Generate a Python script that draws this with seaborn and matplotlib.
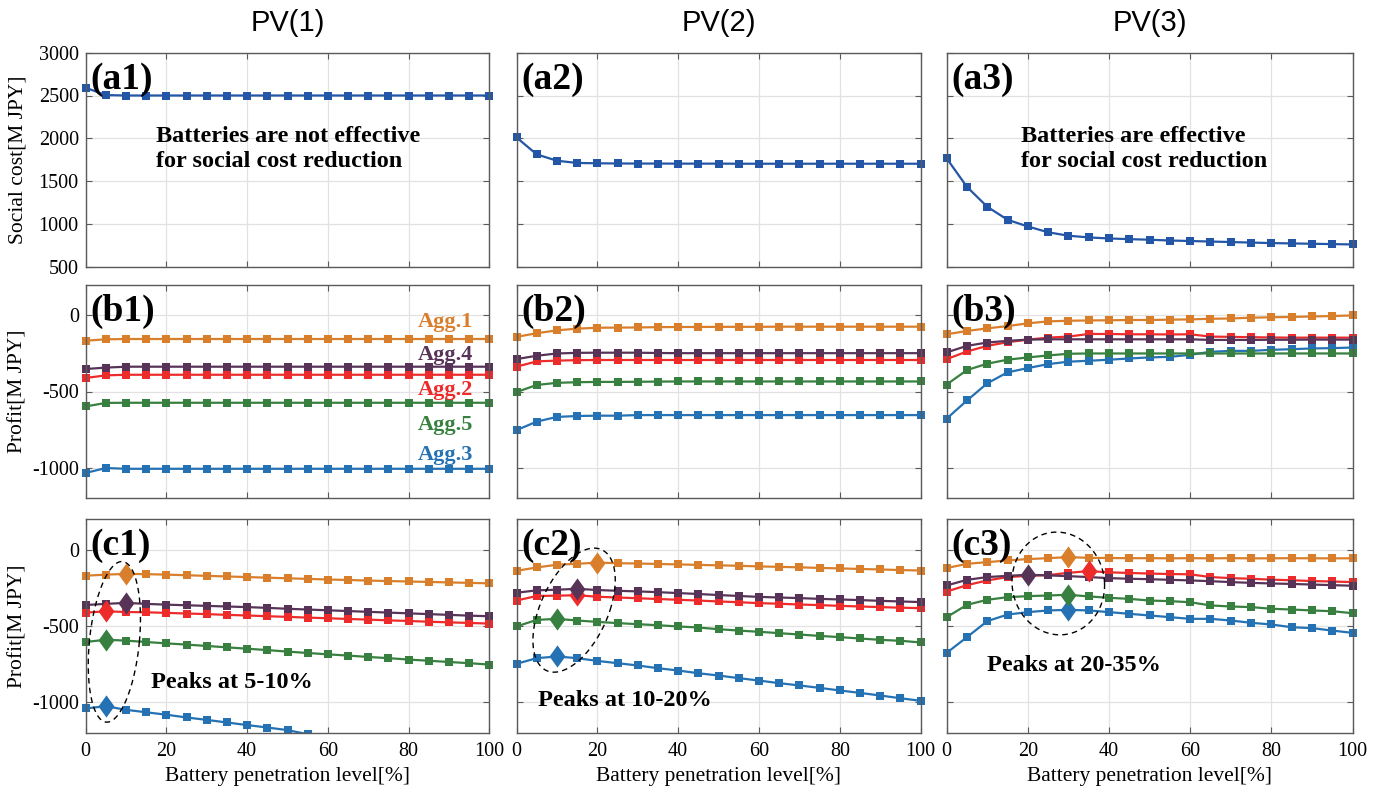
import numpy as np
import matplotlib
matplotlib.use("Agg")
import matplotlib.pyplot as plt
from matplotlib.path import Path
from matplotlib.patches import Rectangle
import seaborn as sns

# ---------------- data ----------------
battery_level = [0, 5, 10, 15, 20, 25, 30, 35, 40, 45, 50, 55, 60, 65, 70, 75, 80, 85, 90, 95, 100]
x_ticks = [0, 20, 40, 60, 80, 100]
cost_ticks = [500, 1000, 1500, 2000, 2500, 3000]
profit_ticks = [-1000, -500, 0]

column_titles = ["PV(1)", "PV(2)", "PV(3)"]
agg_names = ["Agg.1", "Agg.2", "Agg.3", "Agg.4", "Agg.5"]

social_cost_pv1 = [2590, 2505, 2500, 2500, 2500, 2500, 2500, 2500, 2500, 2500, 2500,
                   2500, 2500, 2500, 2500, 2500, 2500, 2500, 2500, 2500, 2500]
social_cost_pv2 = [2010, 1812, 1738, 1712, 1708, 1706, 1705, 1705, 1704, 1704, 1704,
                   1703, 1703, 1703, 1703, 1703, 1703, 1703, 1703, 1703, 1703]
social_cost_pv3 = [1765, 1432, 1200, 1048, 970, 902, 862, 842, 830, 822, 815,
                   806, 800, 794, 788, 782, 776, 772, 768, 764, 760]

# Profit without peak analysis (row b)
b1_agg1 = [-166, -157, -155, -155, -155, -155, -155, -155, -155, -155, -155,
           -155, -155, -155, -155, -155, -155, -155, -155, -155, -155]
b1_agg2 = [-411, -394, -390, -390, -390, -390, -390, -390, -390, -390, -390,
           -390, -390, -390, -390, -390, -390, -390, -390, -390, -390]
b1_agg3 = [-1035, -1003, -1008, -1008, -1008, -1008, -1008, -1008, -1008, -1008, -1008,
           -1008, -1008, -1008, -1008, -1008, -1008, -1008, -1008, -1008, -1008]
b1_agg4 = [-352, -343, -337, -337, -337, -337, -337, -337, -337, -337, -337,
           -337, -337, -337, -337, -337, -337, -337, -337, -337, -337]
b1_agg5 = [-598, -575, -574, -574, -574, -574, -574, -574, -574, -574, -574,
           -574, -574, -574, -574, -574, -574, -574, -574, -574, -574]

b2_agg1 = [-141, -117, -98, -87, -81, -80, -79, -77, -76, -76, -75,
           -75, -75, -74, -74, -74, -74, -74, -74, -74, -74]
b2_agg2 = [-337, -302, -297, -294, -293, -293, -293, -293, -293, -293, -293,
           -293, -293, -293, -293, -293, -293, -293, -293, -293, -293]
b2_agg3 = [-754, -698, -667, -661, -659, -659, -655, -655, -655, -655, -655,
           -655, -655, -655, -655, -655, -655, -655, -655, -655, -655]
b2_agg4 = [-287, -265, -250, -246, -245, -245, -245, -247, -248, -248, -248,
           -248, -248, -248, -248, -248, -248, -248, -248, -248, -248]
b2_agg5 = [-504, -457, -443, -439, -437, -437, -436, -435, -434, -434, -434,
           -434, -434, -434, -434, -434, -434, -434, -434, -434, -434]

b3_agg1 = [-124, -102, -85, -70, -52, -39, -35, -33, -32, -30, -30,
           -28, -26, -22, -20, -15, -12, -10, -7, -4, 0]
b3_agg2 = [-287, -237, -200, -176, -159, -146, -139, -122, -122, -124, -124,
           -125, -124, -139, -141, -143, -145, -146, -146, -146, -146]
b3_agg3 = [-678, -559, -446, -374, -346, -320, -304, -298, -291, -283, -276,
           -272, -259, -239, -233, -233, -226, -222, -217, -215, -211]
b3_agg4 = [-243, -200, -178, -167, -159, -157, -157, -157, -157, -157, -157,
           -157, -157, -161, -161, -161, -160, -160, -159, -159, -159]
b3_agg5 = [-454, -359, -317, -291, -276, -263, -252, -250, -250, -250, -250,
           -250, -250, -250, -250, -250, -250, -250, -250, -250, -250]

# Profit with peaks (row c)
c1_agg1 = [-170, -163, -158, -160, -163, -167, -171, -175, -179, -183, -187,
           -191, -195, -198, -202, -205, -208, -211, -214, -217, -220]
c1_agg2 = [-412, -404, -408, -410, -414, -418, -422, -427, -431, -436, -440,
           -445, -449, -454, -458, -463, -467, -472, -476, -480, -484]
c1_agg3 = [-1041, -1026, -1050, -1066, -1082, -1100, -1116, -1133, -1150, -1166, -1183,
           -1210, -1225, -1240, -1255, -1271, -1288, -1304, -1320, -1337, -1353]
c1_agg4 = [-362, -355, -348, -355, -360, -364, -368, -372, -376, -381, -387,
           -392, -397, -402, -407, -412, -417, -422, -427, -432, -436]
c1_agg5 = [-605, -590, -596, -605, -614, -622, -631, -640, -649, -658, -668,
           -677, -686, -694, -703, -711, -720, -728, -736, -744, -753]

c2_agg1 = [-138, -116, -98, -92, -84, -88, -90, -93, -96, -99, -102,
           -105, -109, -112, -115, -119, -122, -126, -129, -133, -136]
c2_agg2 = [-333, -303, -301, -298, -308, -313, -318, -323, -328, -333, -339,
           -344, -350, -354, -359, -363, -368, -372, -376, -380, -383]
c2_agg3 = [-748, -711, -700, -711, -729, -744, -759, -777, -792, -810, -825,
           -842, -858, -875, -890, -906, -923, -939, -956, -974, -991]
c2_agg4 = [-282, -266, -262, -256, -264, -269, -273, -278, -284, -290, -297,
           -303, -309, -313, -317, -322, -326, -330, -335, -339, -343]
c2_agg5 = [-503, -460, -453, -464, -473, -481, -488, -495, -503, -510, -521,
           -530, -538, -547, -556, -565, -573, -582, -591, -597, -608]

c3_agg1 = [-120, -92, -81, -70, -61, -55, -48, -53, -54, -55, -55,
           -56, -55, -56, -55, -56, -56, -55, -56, -56, -56]
c3_agg2 = [-274, -232, -201, -179, -171, -166, -151, -140, -148, -152, -156,
           -159, -161, -179, -186, -190, -196, -200, -205, -208, -212]
c3_agg3 = [-676, -573, -468, -425, -409, -398, -394, -398, -409, -420, -431,
           -442, -453, -453, -464, -479, -490, -508, -514, -530, -545]
c3_agg4 = [-234, -197, -179, -171, -164, -168, -173, -179, -186, -190, -193,
           -197, -201, -206, -212, -217, -221, -224, -228, -232, -236]
c3_agg5 = [-442, -361, -328, -311, -304, -300, -295, -306, -315, -322, -333,
           -337, -344, -365, -372, -376, -387, -392, -398, -403, -416]

# ---------------- style ----------------
agg_colors = ["#D97F2C", "#EE2B2B", "#2471B3", "#573457", "#37803F"]
cost_color = "#2356A6"

sns.set_theme(style="white")
plt.rcParams["font.family"] = ["Liberation Serif", "DejaVu Serif"]
plt.rcParams["axes.unicode_minus"] = False
plt.rcParams["text.color"] = "black"
plt.rcParams["axes.labelcolor"] = "black"
plt.rcParams["xtick.color"] = "black"
plt.rcParams["ytick.color"] = "black"

W, H = 1381, 791
fig = plt.figure(figsize=(W / 100, H / 100), dpi=100)

lefts = [85.7, 516.5, 946.7]
rights = [489.3, 920.7, 1352.5]
tops = [52.7, 285.0, 519.3]
bottoms = [266.7, 498.0, 732.7]

axes = [[None] * 3 for _ in range(3)]
for r in range(3):
    for c in range(3):
        axes[r][c] = fig.add_axes([lefts[c] / W, 1 - bottoms[r] / H,
                                  (rights[c] - lefts[c]) / W, (bottoms[r] - tops[r]) / H])

diamond = Path([(0, 1), (0.72, 0), (0, -1), (-0.72, 0), (0, 1)],
               [Path.MOVETO, Path.LINETO, Path.LINETO, Path.LINETO, Path.CLOSEPOLY])


def clip_line(ax, line):
    rect = Rectangle((-0.06, 0.0), 1.12, 1.0, transform=ax.transAxes,
                     facecolor="none", edgecolor="none")
    line.set_clip_path(rect)


def style_ax(ax, r, c):
    ax.set_xlim(0, 100)
    ax.set_xticks(x_ticks)
    if r == 0:
        ax.set_ylim(500, 3000)
        ax.set_yticks(cost_ticks)
    else:
        ax.set_ylim(-1200, 200)
        ax.set_yticks(profit_ticks)
    ax.grid(True, color="#e2e2e2", lw=0.9)
    ax.set_axisbelow(True)
    for sp in ax.spines.values():
        sp.set_color("#5a5a5a")
        sp.set_linewidth(1.0)
    ax.tick_params(direction="in", length=4, width=0.8, color="#5a5a5a",
                   labelcolor="black", labelsize=14.5, top=True, right=True,
                   left=True, bottom=True, pad=5)
    ax.tick_params(axis="x", pad=7)
    if c != 0:
        ax.tick_params(labelleft=False)
    if r != 2:
        ax.tick_params(labelbottom=False)
    ax.set_xlabel("")
    ax.set_ylabel("")


# row a: social cost
cost_series = [social_cost_pv1, social_cost_pv2, social_cost_pv3]
for c in range(3):
    ax = axes[0][c]
    sns.lineplot(x=battery_level, y=cost_series[c], ax=ax, color=cost_color,
                 marker="s", markersize=5.4, linewidth=1.6, markeredgewidth=0)
    clip_line(ax, ax.lines[-1])
    style_ax(ax, 0, c)

row_b = [[b1_agg1, b1_agg2, b1_agg3, b1_agg4, b1_agg5],
         [b2_agg1, b2_agg2, b2_agg3, b2_agg4, b2_agg5],
         [b3_agg1, b3_agg2, b3_agg3, b3_agg4, b3_agg5]]
row_c = [[c1_agg1, c1_agg2, c1_agg3, c1_agg4, c1_agg5],
         [c2_agg1, c2_agg2, c2_agg3, c2_agg4, c2_agg5],
         [c3_agg1, c3_agg2, c3_agg3, c3_agg4, c3_agg5]]

for r, rowdata in ((1, row_b), (2, row_c)):
    for c in range(3):
        ax = axes[r][c]
        for k in range(5):
            sns.lineplot(x=battery_level, y=rowdata[c][k], ax=ax, color=agg_colors[k],
                         marker="s", markersize=6.4, linewidth=1.6, markeredgewidth=0)
            clip_line(ax, ax.lines[-1])
            if r == 2:
                idx = int(np.argmax(rowdata[c][k]))
                ax.plot([battery_level[idx]], [rowdata[c][k][idx]], linestyle="none",
                        marker=diamond, markersize=16, color=agg_colors[k],
                        markeredgewidth=0, zorder=5 + k)
        style_ax(ax, r, c)

# panel labels
panel_labels = [["(a1)", "(a2)", "(a3)"], ["(b1)", "(b2)", "(b3)"], ["(c1)", "(c2)", "(c3)"]]
for r in range(3):
    for c in range(3):
        axes[r][c].text(0.012, 0.958, panel_labels[r][c], transform=axes[r][c].transAxes,
                        ha="left", va="top", fontsize=27, fontweight="bold", zorder=20)

# column titles
for c in range(3):
    fig.text((lefts[c] + rights[c]) / 2 / W, 1 - 23 / H, column_titles[c],
             ha="center", va="center", fontsize=21, family="Liberation Sans")

# axis labels
for r in range(3):
    ax = axes[r][0]
    ax.set_ylabel("Social cost[M JPY]" if r == 0 else "Profit[M JPY]", fontsize=15.5)
    ax.yaxis.set_label_coords(-0.168, 0.5)
    ax.yaxis.label.set_va("center")
for c in range(3):
    ax = axes[2][c]
    ax.set_xlabel("Battery penetration level[%]", fontsize=15.5)
    ax.xaxis.set_label_coords(0.5, -0.205)
    ax.xaxis.label.set_va("center")

# Agg labels in (b1)
agg_label_y = [-44, -490, -917, -262, -722]
for k in range(5):
    axes[1][0].text(96, agg_label_y[k], agg_names[k], color=agg_colors[k], ha="right",
                    va="center", fontsize=16, fontweight="bold")

# annotations
axes[0][0].text(17.4, 1875, "Batteries are not effective\nfor social cost reduction",
                ha="left", va="center", fontsize=17.5, fontweight="bold", linespacing=1.2)
axes[0][2].text(18.2, 1875, "Batteries are effective\nfor social cost reduction",
                ha="left", va="center", fontsize=17.5, fontweight="bold", linespacing=1.2)
axes[2][0].text(16.2, -869, "Peaks at 5-10%", ha="left", va="center",
                fontsize=17.5, fontweight="bold")
axes[2][1].text(5.2, -991, "Peaks at 10-20%", ha="left", va="center",
                fontsize=17.5, fontweight="bold")
axes[2][2].text(9.9, -759, "Peaks at 20-35%", ha="left", va="center",
                fontsize=17.5, fontweight="bold")

# dashed ellipses (cx, cy, a, b, shear)
ellipses = [(7.1, -604, 6.2, 527, 1.85), (14.25, -396, 8.9, 407, 4.95), (27.5, -221, 11.4, 337, -0.4)]
t = np.linspace(0, 2 * np.pi, 200)
for c in range(3):
    cx, cy, a, b, s = ellipses[c]
    axes[2][c].plot(cx + a * np.cos(t) + s * np.sin(t), cy + b * np.sin(t),
                    color="black", lw=1.0, linestyle=(0, (4, 3)), zorder=15)

fig.savefig("out.png", dpi=100)
